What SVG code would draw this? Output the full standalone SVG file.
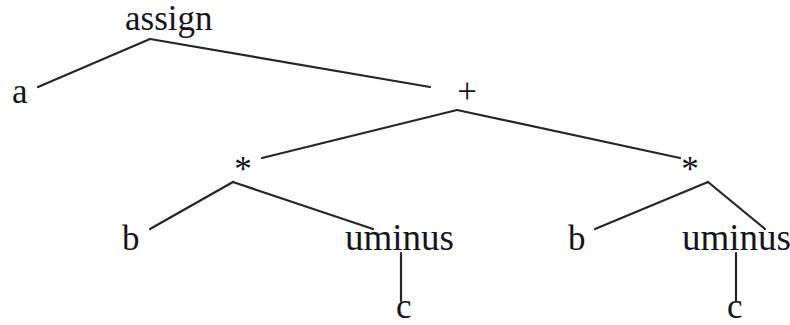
<svg xmlns="http://www.w3.org/2000/svg" width="790" height="325" viewBox="0 0 790 325">
<style>
text { font-family: "Liberation Serif", "Times New Roman", serif; font-size: 35px; fill: #141420; }
.u { font-size: 37px; }
.e { stroke: #262626; stroke-width: 2.2; fill: none; stroke-linecap: round; }
</style>
<rect width="790" height="325" fill="#ffffff"/>
<g id="connectors">
<line class="e" x1="150" y1="39" x2="38" y2="87"/>
<line class="e" x1="150" y1="39" x2="430" y2="87"/>
<line class="e" x1="457" y1="110" x2="262" y2="158"/>
<line class="e" x1="457" y1="110" x2="680" y2="158"/>
<line class="e" x1="233" y1="182" x2="150" y2="229"/>
<line class="e" x1="233" y1="182" x2="373" y2="229"/>
<line class="e" x1="708" y1="182" x2="595" y2="229"/>
<line class="e" x1="708" y1="182" x2="765" y2="229"/>
<line class="e" x1="401" y1="253" x2="401" y2="301"/>
<line class="e" x1="736" y1="253" x2="736" y2="301"/>
</g>
<g id="n-assign"><text x="125" y="30">assign</text></g>
<g id="n-a"><text x="12" y="103">a</text></g>
<g id="n-plus"><text x="467" y="103" text-anchor="middle">+</text></g>
<g id="n-star1"><text x="243" y="181" text-anchor="middle">*</text></g>
<g id="n-star2"><text x="690" y="181" text-anchor="middle">*</text></g>
<g id="n-b1"><text x="122" y="250">b</text></g>
<g id="n-uminus1"><text class="u" x="345" y="250">uminus</text></g>
<g id="n-b2"><text x="568" y="250">b</text></g>
<g id="n-uminus2"><text class="u" x="682" y="250">uminus</text></g>
<g id="n-c1"><text x="396" y="318">c</text></g>
<g id="n-c2"><text x="727" y="318">c</text></g>
</svg>
